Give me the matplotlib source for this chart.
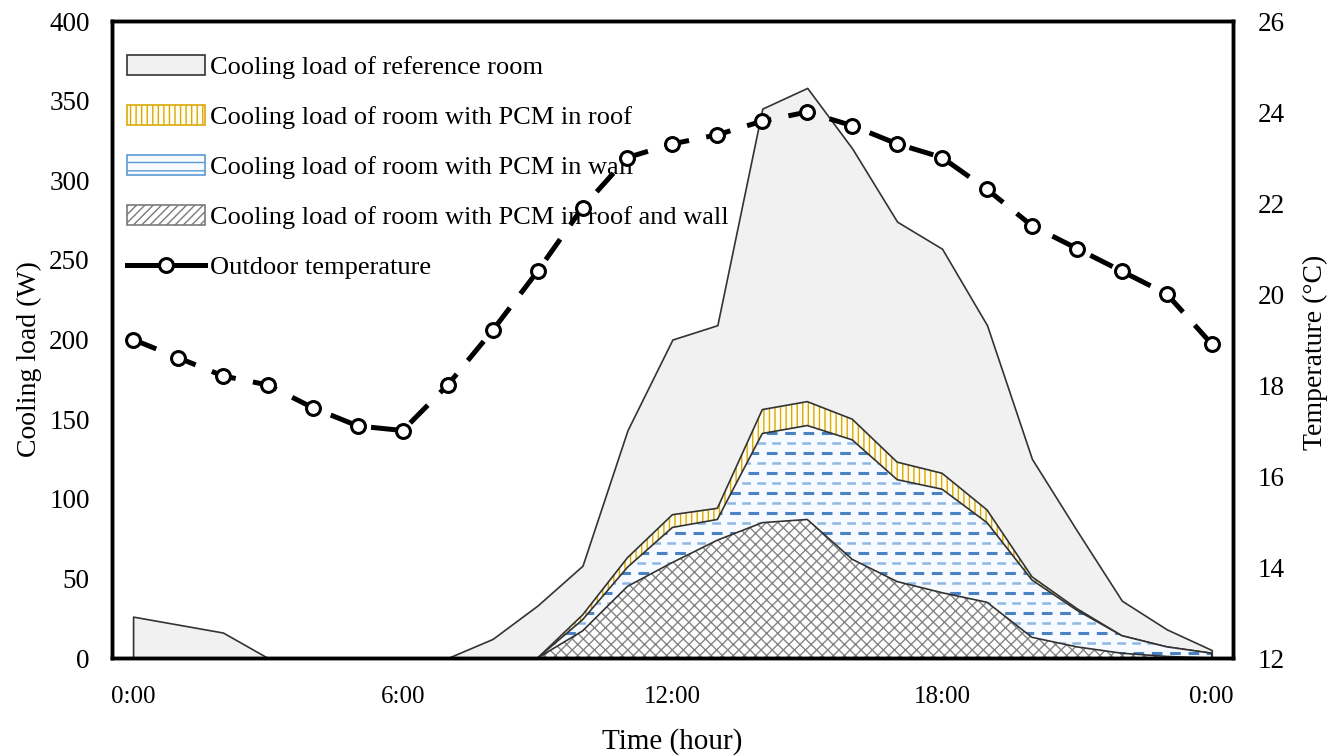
import numpy as np
import matplotlib
matplotlib.use('Agg')
import matplotlib.pyplot as plt
from matplotlib.patches import Patch
from matplotlib.lines import Line2D

plt.rcParams['font.family'] = ['Liberation Serif', 'DejaVu Serif']
plt.rcParams['hatch.linewidth'] = 1.0

hours = np.arange(0, 25)
# cooling loads (W)
load_ref = [26, 21, 16, 0, 0, 0, 0, 0, 12, 33, 58, 143, 200, 209, 345, 358,
            320, 274, 257, 209, 125, 80, 36, 18, 5]
load_roof = [0, 0, 0, 0, 0, 0, 0, 0, 0, 0, 27, 63, 90, 94, 156, 161,
             150, 123, 116, 93, 51, 31, 14, 7, 3]
load_wall = [0, 0, 0, 0, 0, 0, 0, 0, 0, 0, 24, 57, 82, 87, 141, 146,
             137, 112, 106, 85, 49, 30, 14, 7, 3]
load_both = [0, 0, 0, 0, 0, 0, 0, 0, 0, 0, 17, 45, 60, 74, 85, 87,
             62, 48, 41, 35, 13, 7, 3, 1, 0]
# outdoor temperature (C)
temp_out = [19.0, 18.6, 18.2, 18.0, 17.5, 17.1, 17.0, 18.0, 19.2, 20.5, 21.9,
            23.0, 23.3, 23.5, 23.8, 24.0, 23.7, 23.3, 23.0, 22.3, 21.5, 21.0,
            20.5, 20.0, 18.9]
xtick_pos = [0, 6, 12, 18, 24]
xtick_lab = ['0:00', '6:00', '12:00', '18:00', '0:00']

fig = plt.figure(figsize=(13.36, 7.56), dpi=100)
ax = fig.add_axes([0.0838, 0.1296, 0.839, 0.8426])
ax2 = ax.twinx()

edge = '#333333'

# reference room
ax.fill_between(hours, 0, load_ref, facecolor='#f1f1f1', edgecolor=edge,
                linewidth=1.2, zorder=1.0)

# PCM in roof
ax.fill_between(hours, 0, load_roof, facecolor='#fffdf0', hatch='|||',
                edgecolor='#d9a90a', linewidth=0, zorder=1.1)
ax.fill_between(hours, 0, load_roof, facecolor='none', edgecolor=edge,
                linewidth=1.2, zorder=1.15)

# PCM in wall (dashed blue lines clipped to the area)
wall = ax.fill_between(hours, 0, load_wall, facecolor='#f7fbff', linewidth=0,
                       zorder=1.2)
clip = wall.get_paths()[0]
rows = np.arange(3, 160, 6.3)
dark = ax.hlines(rows[::2], -1, 25, colors='#4a82c4', linewidth=2.2,
                 linestyles=(0, (3.5, 2.5)), zorder=1.25)
light = ax.hlines(rows[1::2], -1, 25, colors='#8db8e3', linewidth=1.8,
                  linestyles=(2.5, (3.5, 2.5)), zorder=1.25)
for lc in (dark, light):
    lc.set_clip_path(clip, ax.transData)
ax.fill_between(hours, 0, load_wall, facecolor='none', edgecolor=edge,
                linewidth=1.2, zorder=1.3)

# PCM in roof and wall
ax.fill_between(hours, 0, load_both, facecolor='white', hatch='xxx',
                edgecolor='#858585', linewidth=0, zorder=1.4)
ax.fill_between(hours, 0, load_both, facecolor='none', edgecolor=edge,
                linewidth=1.2, zorder=1.45)

# outdoor temperature
ax2.plot(hours, temp_out, color='black', linewidth=3.6, dashes=(5, 3.5),
         marker='o', markersize=10, markerfacecolor='white',
         markeredgecolor='black', markeredgewidth=2.2)

ax.set_xlim(-0.47, 24.47)
ax.set_ylim(0, 400)
ax2.set_ylim(12, 26)
ax.set_xticks(xtick_pos)
ax.set_xticklabels(xtick_lab)
ax.set_yticks(np.arange(0, 401, 50))
ax2.set_yticks(np.arange(12, 27, 2))

ax.tick_params(axis='x', length=0, pad=20, labelsize=18)
ax.tick_params(axis='y', length=0, pad=16, labelsize=19.5)
ax2.tick_params(axis='y', length=0, pad=18, labelsize=19.5)
for a in (ax, ax2):
    for s in a.spines.values():
        s.set_linewidth(2.5)
        s.set_color('black')

ax.set_xlabel('Time (hour)', fontsize=21)
ax.set_ylabel('Cooling load (W)', fontsize=20)
ax2.set_ylabel('Temperature (\u00b0C)', fontsize=20)
ax.xaxis.set_label_coords(0.4996, -0.11)
ax.yaxis.set_label_coords(-0.062, 0.47)
ax2.yaxis.set_label_coords(1.062, 0.48)

handles = [
    Patch(facecolor='#f1f1f1', edgecolor=edge, linewidth=1.2),
    Patch(facecolor='#fffdf0', edgecolor='#d9a90a', hatch='|||', linewidth=1.2),
    Patch(facecolor='#f7fbff', edgecolor='#5b9bd5', hatch='--', linewidth=1.2),
    Patch(facecolor='white', edgecolor='#7a7a7a', hatch='////', linewidth=1.2),
    Line2D([], [], color='black', linewidth=3.6, marker='o', markersize=10,
           markerfacecolor='white', markeredgecolor='black', markeredgewidth=2.2),
]
labels = ['Cooling load of reference room',
          'Cooling load of room with PCM in roof',
          'Cooling load of room with PCM in wall',
          'Cooling load of room with PCM in roof and wall',
          'Outdoor temperature']
ax.legend(handles, labels, loc='upper left', bbox_to_anchor=(-0.003, 0.975),
          frameon=False, fontsize=19, handlelength=2.95, handleheight=0.75,
          handletextpad=0.2, labelspacing=0.99, borderaxespad=0.3)

fig.savefig('out.png', dpi=100)
